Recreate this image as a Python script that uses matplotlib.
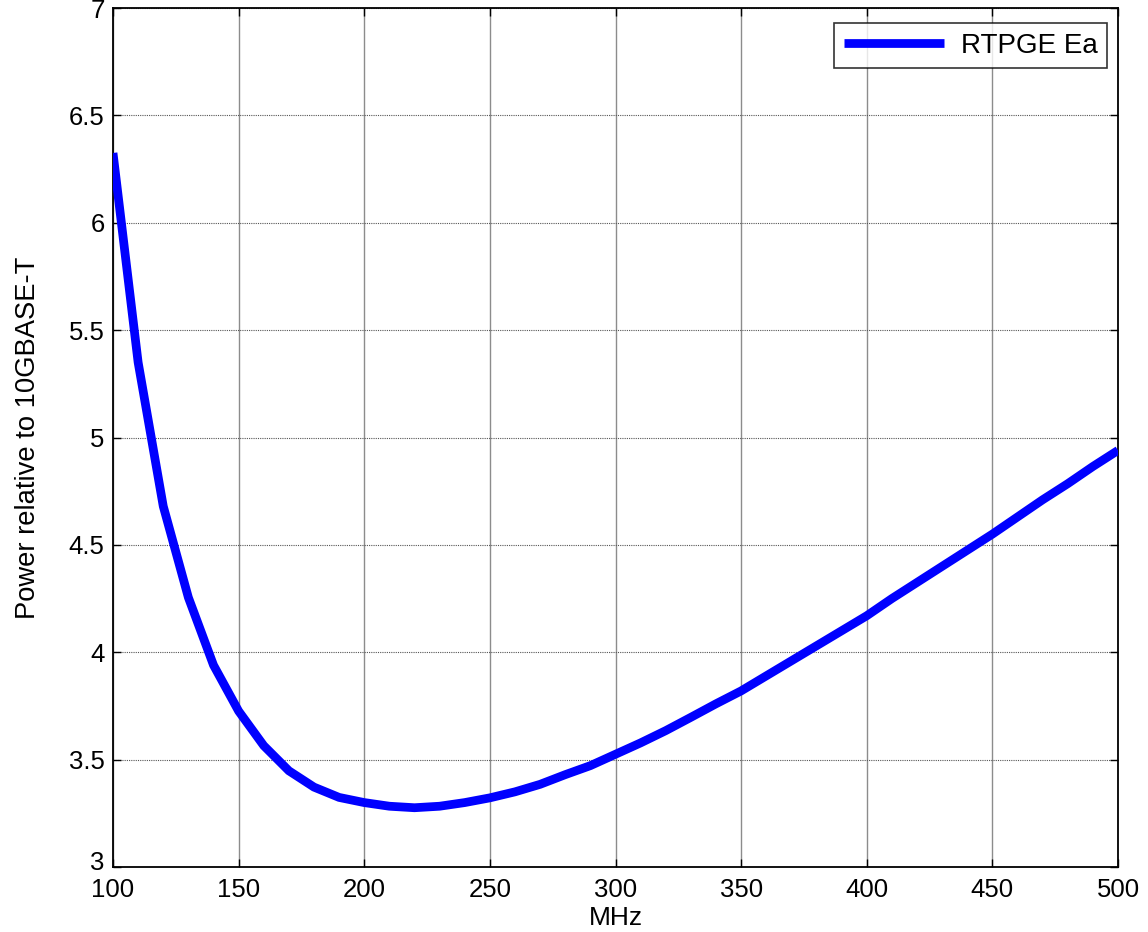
import matplotlib
matplotlib.use("Agg")
import matplotlib.pyplot as plt
import matplotlib.transforms as mtransforms

# Data
freq_mhz = [100, 110, 120, 130, 140, 150, 160, 170, 180, 190,
            200, 210, 220, 230, 240, 250, 260, 270, 280, 290,
            300, 310, 320, 330, 340, 350, 360, 370, 380, 390,
            400, 410, 420, 430, 440, 450, 460, 470, 480, 490, 500]
power_rel = [6.325, 5.35, 4.68, 4.255, 3.94, 3.726, 3.565, 3.448, 3.372, 3.324,
             3.300, 3.283, 3.276, 3.283, 3.300, 3.322, 3.350, 3.385, 3.430, 3.472,
             3.525, 3.578, 3.635, 3.697, 3.760, 3.820, 3.890, 3.960, 4.030, 4.100,
             4.170, 4.250, 4.325, 4.400, 4.475, 4.550, 4.630, 4.710, 4.785, 4.865, 4.940]
series_label = "RTPGE Ea"
x_ticks = [100, 150, 200, 250, 300, 350, 400, 450, 500]
y_ticks = [3, 3.5, 4, 4.5, 5, 5.5, 6, 6.5, 7]
y_ticklabels = ["3", "3.5", "4", "4.5", "5", "5.5", "6", "6.5", "7"]
x_label = "MHz"
y_label = "Power relative to 10GBASE-T"

plt.rcParams['font.family'] = ['Liberation Sans', 'DejaVu Sans']

fig = plt.figure(figsize=(11.48, 9.32), dpi=100)
ax = fig.add_axes([113/1148, 1 - 867/932, (1118 - 113)/1148, (867 - 8)/932])

ax.plot(freq_mhz, power_rel, color=(0, 0, 1), lw=6.3, label=series_label,
        solid_joinstyle='miter', solid_capstyle='butt', zorder=3)

ax.set_xlim(100, 500)
ax.set_ylim(3, 7)
ax.set_xticks(x_ticks)
ax.set_xticklabels([str(v) for v in x_ticks])
ax.set_yticks(y_ticks)
ax.set_yticklabels(y_ticklabels)

ax.grid(True, axis='x', color='#8c8c8c', linestyle='-', linewidth=1.0, zorder=1)
ax.grid(True, axis='y', color='#555555', linestyle=(0, (1, 1)), linewidth=0.8, zorder=1)

ax.tick_params(axis='both', which='major', direction='in', length=6, width=1,
               labelsize=18.5, top=True, right=True, color='black')
ax.tick_params(axis='x', pad=8)
ax.tick_params(axis='y', pad=6)
for s in ax.spines.values():
    s.set_linewidth(1.3)
    s.set_color('black')

# lift the lowest y tick label slightly, as in the reference
lowest = ax.get_yticklabels()[0]
lowest.set_transform(lowest.get_transform() +
                     mtransforms.ScaledTranslation(0, 6/100, fig.dpi_scale_trans))

ax.set_xlabel(x_label, fontsize=19, labelpad=3)
ax.set_ylabel(y_label, fontsize=19.7, labelpad=20)

leg = ax.legend(loc='upper right', fontsize=20, frameon=True, fancybox=False,
                edgecolor='black', handlelength=3.6, handletextpad=0.6,
                borderpad=0.35, borderaxespad=0.0,
                bbox_to_anchor=(1 - 11/1005, 1 - 15/859))
leg.get_frame().set_linewidth(1.2)

fig.savefig("out.png", dpi=100)
